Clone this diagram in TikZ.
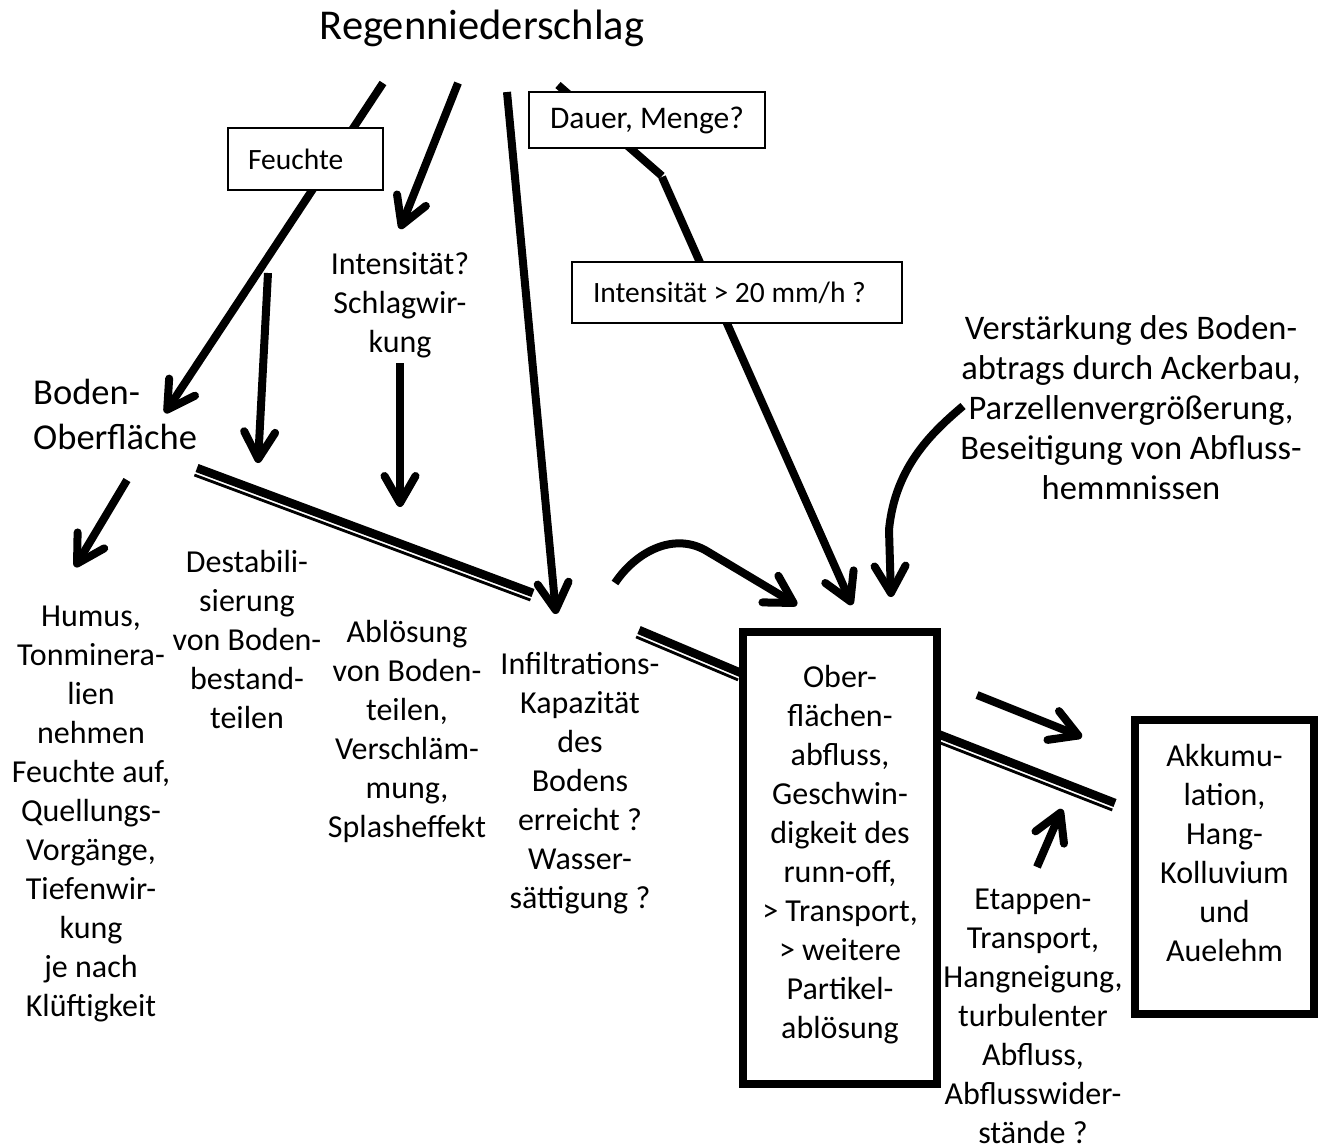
\documentclass[tikz,border=0pt]{standalone}
\usepackage{fontspec}
\setmainfont{Carlito}
\usetikzlibrary{arrows.meta,calc,backgrounds}
\begin{document}
\begin{tikzpicture}[x=1pt,y=-1pt,
  txt/.style={align=center, inner sep=0pt, font=\fontsize{32}{39}\selectfont},
  lbox/.style={draw, line width=2pt, fill=white, inner sep=0pt, font=\fontsize{29.5}{36}\selectfont},
  bigbox/.style={draw, line width=8pt, fill=white, inner sep=0pt},
  arr/.style={line width=8pt, -{Straight Barb[length=27pt,width=31pt,line cap=round,line join=round]}},
  shaft/.style={line width=8pt},
  dthick/.style={line width=8.5pt},
  dthin/.style={line width=2.8pt}]
\useasboundingbox (0,0) rectangle (1324,1146);

% title and text
\node[inner sep=0pt, font=\fontsize{42.5}{50}\selectfont] (title) at (482,28) {Regenniederschlag};
\node[anchor=west, align=left, inner sep=0pt, font=\fontsize{36.5}{45}\selectfont] (boden) at (33,414.5) {Boden-\\Oberfläche};
\node[txt] (intens) at (400,305.5) {Intensität?\\Schlagwir-\\kung};
\node[txt] (humus) at (91,814) {Humus,\\Tonminera-\\lien\\nehmen\\Feuchte auf,\\Quellungs-\\Vorgänge,\\Tiefenwir-\\kung\\je nach\\Klüftigkeit};
\node[txt] (destab) at (247,639) {Destabili-\\sierung\\von Boden-\\bestand-\\teilen};
\node[txt] (abloes) at (407,731) {Ablösung\\von Boden-\\teilen,\\Verschläm-\\mung,\\Splasheffekt};
\node[txt] (infil) at (580,783) {Infiltrations-\\Kapazität\\des\\Bodens\\erreicht ?\\Wasser-\\sättigung ?};
\node[txt, font=\fontsize{34.5}{40}\selectfont] (verst) at (1131,408) {Verstärkung des Boden-\\abtrags durch Ackerbau,\\Parzellenvergrößerung,\\Beseitigung von Abfluss-\\hemmnissen};
\node[txt] (etappen) at (1033,1016.5) {Etappen-\\Transport,\\Hangneigung,\\turbulenter\\Abfluss,\\Abflusswider-\\stände ?};

% boxes
\node[lbox, minimum width=155pt, minimum height=62pt, inner xsep=20pt, text width=115pt, align=flush left] (feuchte) at (305.5,159) {Feuchte};
\node[lbox, minimum width=236pt, minimum height=56pt, align=center, font=\fontsize{31.5}{38}\selectfont] (dauer) at (647,120) {Dauer, Menge?};
\node[lbox, minimum width=330pt, minimum height=61pt, inner xsep=21pt, text width=288pt, align=flush left] (intbox) at (737,292.5) {Intensität > 20 mm/h ?};
\node[bigbox, minimum width=194pt, minimum height=452pt] (ober) at (840,858) {};
\node[txt] (obertext) at (840,854.5) {Ober-\\flächen-\\abfluss,\\Geschwin-\\digkeit des\\runn-off,\\> Transport,\\> weitere\\Partikel-\\ablösung};
\node[bigbox, minimum width=179pt, minimum height=294pt] (akku) at (1224.5,867) {};
\node[txt] (akkutext) at (1224.5,852.5) {Akkumu-\\lation,\\Hang-\\Kolluvium\\und\\Auelehm};

% connector end points
\coordinate (a1s) at (383,83);   \coordinate (a1e) at (165,413);
\coordinate (a2s) at (458,83);   \coordinate (a2e) at (400,229);
\coordinate (a3s) at (507,92);   \coordinate (a3e) at (556,614);
\coordinate (a4s) at (558,85);   \coordinate (a4m) at (662,177);  \coordinate (a4e) at (852,605);
\coordinate (a5s) at (268,273);  \coordinate (a5e) at (258,463);
\coordinate (a6s) at (400,363);  \coordinate (a6e) at (400,507);
\coordinate (a7s) at (127,480);  \coordinate (a7e) at (75,567);
\coordinate (a8s) at (615,583);  \coordinate (a8m) at (705,550);  \coordinate (a8e) at (797,605);
\coordinate (a9s) at (963,406);  \coordinate (a9m) at (889,530);  \coordinate (a9e) at (891,597);
\coordinate (a10s) at (977,695); \coordinate (a10e) at (1082,737);
\coordinate (a11s) at (1037,867);\coordinate (a11e) at (1062,809);
\coordinate (d1s) at (197,468);  \coordinate (d1e) at (533,593);
\coordinate (d2s) at (639,630);  \coordinate (d2e) at (741,673);
\coordinate (d3s) at (938,734);  \coordinate (d3e) at (1115,803);

\begin{pgfonlayer}{background}
\draw[arr] (a1s) -- (a1e);
\draw[arr] (a2s) -- (a2e);
\draw[arr] (a3s) -- (a3e);
\draw[shaft] (a4s) -- ($(a4m)+(0,-1)$);
\draw[arr] (a4m) -- (a4e);
\draw[arr] (a5s) -- (a5e);
\draw[arr] (a6s) -- (a6e);
\draw[arr] (a7s) -- (a7e);
\draw[arr] (a8s) .. controls (635,553) and (672,532) .. (a8m) -- (a8e);
\draw[arr] (a9s) .. controls (935,430) and (895,465) .. (a9m) -- (a9e);
\draw[arr] (a10s) -- (a10e);
\draw[arr] (a11s) -- (a11e);
% double lines
\draw[dthick] (d1s) -- (d1e);
\draw[dthin] ($(d1s)!7.5pt!-90:(d1e)$) -- ($(d1e)!7.5pt!90:(d1s)$);
\draw[dthick] (d2s) -- (d2e);
\draw[dthin] ($(d2s)!7.5pt!-90:(d2e)$) -- ($(d2e)!7.5pt!90:(d2s)$);
\draw[dthick] (d3s) -- (d3e);
\draw[dthin] ($(d3s)!7.5pt!-90:(d3e)$) -- ($(d3e)!7.5pt!90:(d3s)$);
\end{pgfonlayer}
\end{tikzpicture}
\end{document}
